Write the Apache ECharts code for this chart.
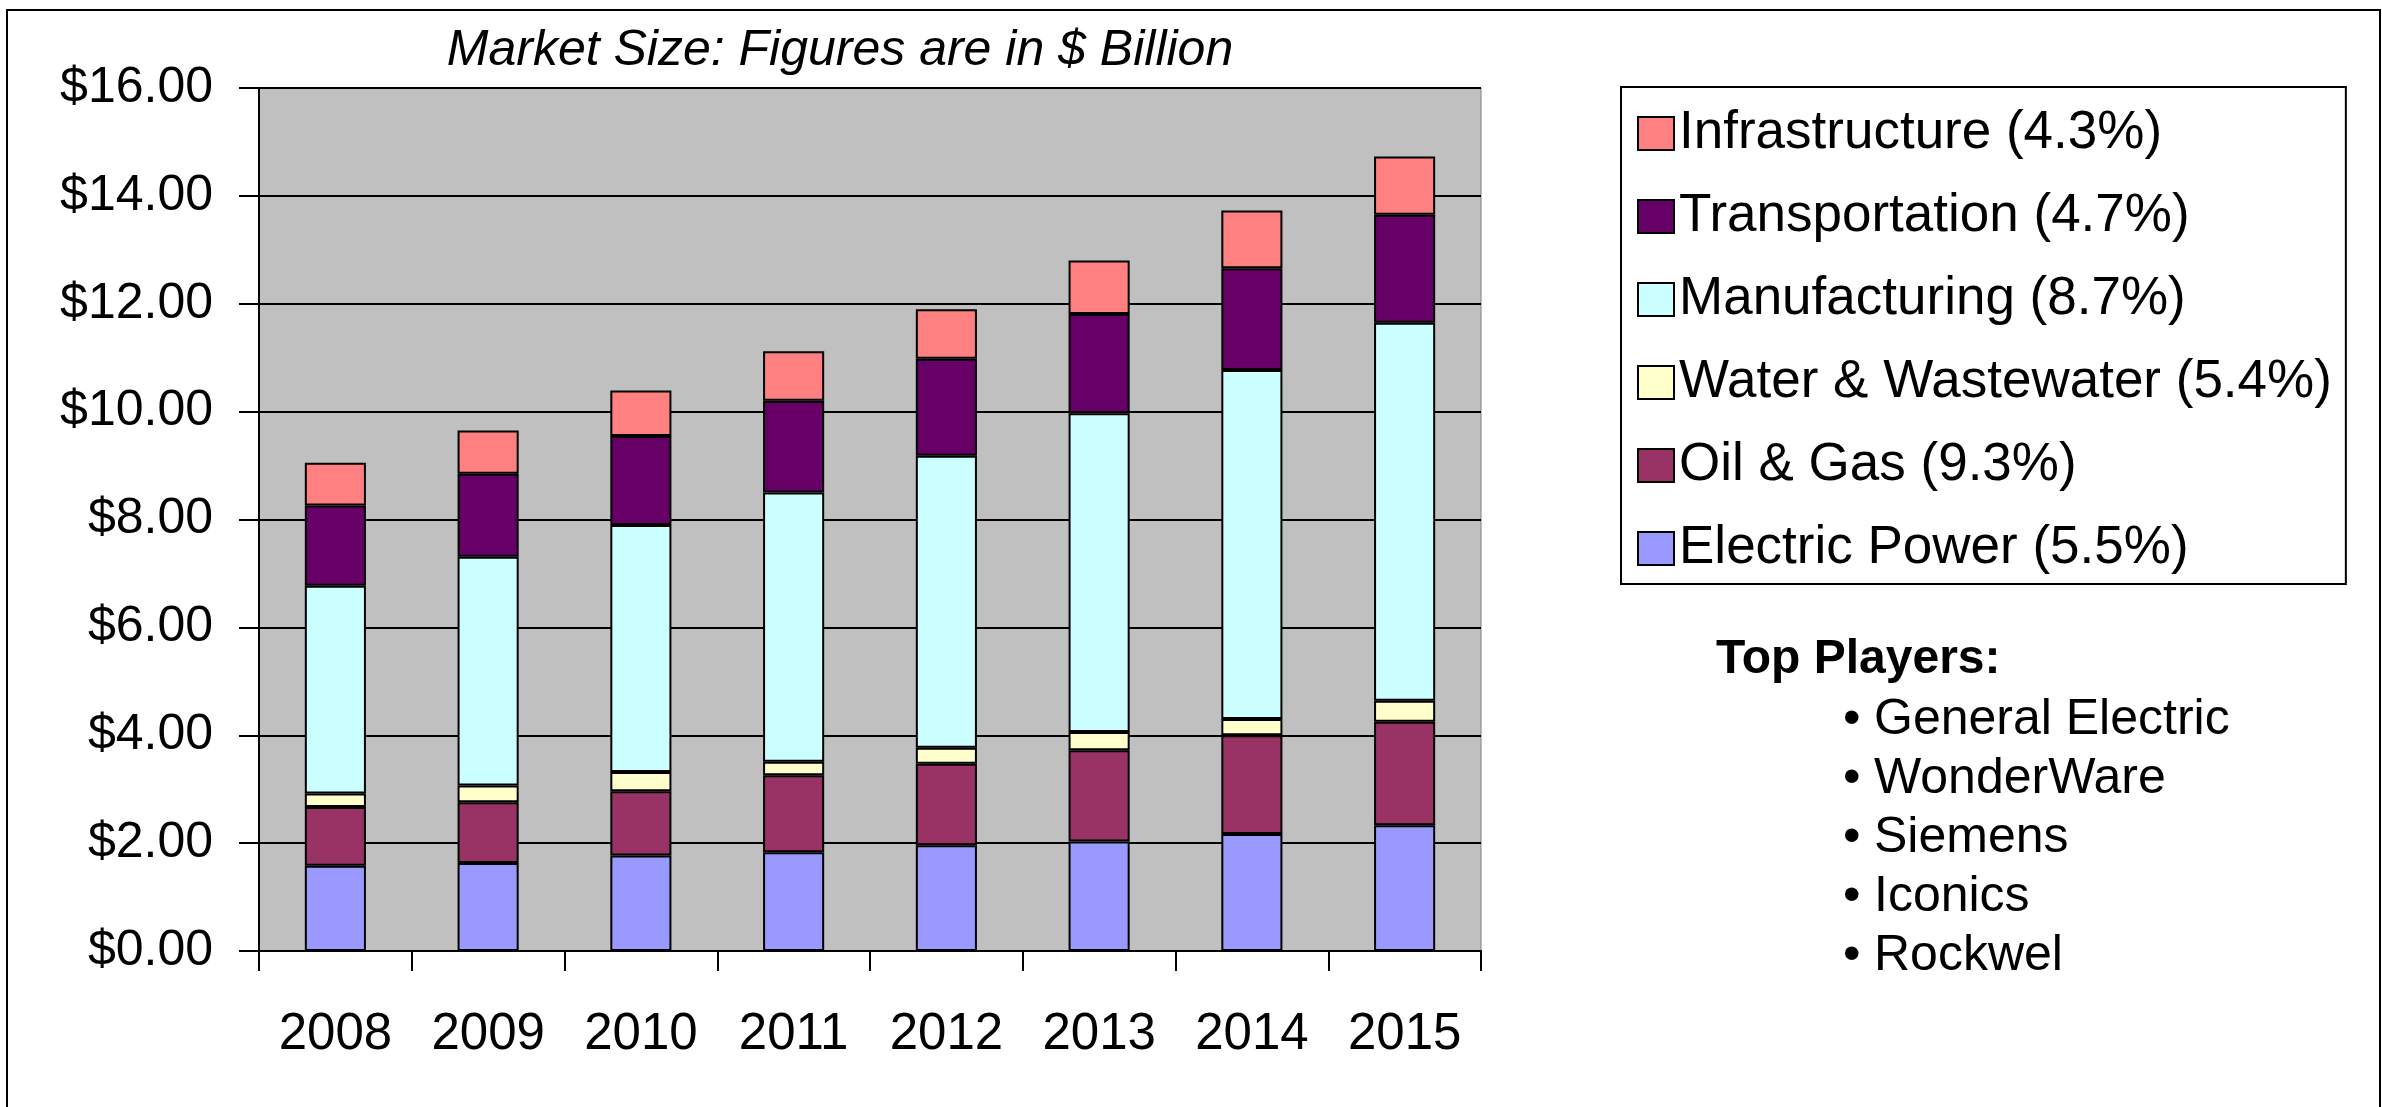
<!DOCTYPE html>
<html>
<head>
<meta charset="utf-8">
<script src="https://cdn.jsdelivr.net/npm/echarts@6/dist/echarts.min.js"></script>
<style>
html,body{margin:0;padding:0;background:#fff;}
#chart{width:2382px;height:1107px;}
</style>
</head>
<body>
<div id="chart"></div>
<script>
const years = ['2008','2009','2010','2011','2012','2013','2014','2015'];
const electricPower = [1.58, 1.63, 1.77, 1.83, 1.96, 2.03, 2.17, 2.33];
const oilGas        = [1.09, 1.13, 1.19, 1.43, 1.51, 1.69, 1.83, 1.92];
const water         = [0.25, 0.31, 0.36, 0.25, 0.30, 0.34, 0.30, 0.39];
const manufacturing = [3.85, 4.24, 4.58, 4.99, 5.41, 5.91, 6.47, 7.01];
const transportation= [1.49, 1.54, 1.65, 1.70, 1.80, 1.84, 1.89, 2.00];
const infrastructure= [0.79, 0.80, 0.84, 0.92, 0.92, 0.99, 1.07, 1.08];
const seriesNames = ['Electric Power (5.5%)','Oil & Gas (9.3%)','Water & Wastewater (5.4%)','Manufacturing (8.7%)','Transportation (4.7%)','Infrastructure (4.3%)'];
const yTicks = [0, 2, 4, 6, 8, 10, 12, 14, 16];
const topPlayers = ['General Electric','WonderWare','Siemens','Iconics','Rockwel'];
const titleText = 'Market Size: Figures are in $ Billion';

const colors = ['#9999FF','#993366','#FFFFCC','#CCFFFF','#660066','#FF8080'];
const seriesData = [electricPower, oilGas, water, manufacturing, transportation, infrastructure];
const FONT = '"Liberation Sans", Arial, sans-serif';

const chart = echarts.init(document.getElementById('chart'), null, {renderer:'canvas'});

const graphics = [
  {type:'rect', shape:{x:7, y:10, width:2373, height:1200}, style:{fill:'none', stroke:'#000', lineWidth:2}, silent:true},
  {type:'text', x:840, y:51, style:{text:titleText, font:'italic 50px ' + FONT, fill:'#000', textAlign:'center', textVerticalAlign:'middle'}},
  {type:'text', x:1716, y:660, style:{text:'Top Players:', font:'bold 48px ' + FONT, fill:'#000', textAlign:'left', textVerticalAlign:'middle'}}
];
topPlayers.forEach((p, i) => {
  const y = 720 + i * 59;
  graphics.push({type:'text', x:1843, y:y, style:{text:'\u2022', font:'50px ' + FONT, fill:'#000', textAlign:'left', textVerticalAlign:'middle'}});
  graphics.push({type:'text', x:1874, y:y, style:{text:p, font:'50px ' + FONT, fill:'#000', textAlign:'left', textVerticalAlign:'middle'}});
});

const option = {
  backgroundColor:'#fff',
  animation:false,
  textStyle:{fontFamily:FONT},
  grid:{left:259, top:88, right:901, bottom:156, show:true, backgroundColor:'#C0C0C0', borderColor:'#808080', borderWidth:1},
  legend:{
    orient:'vertical', left:1621, top:87,
    data: seriesNames.slice().reverse(),
    backgroundColor:'#fff', borderColor:'#000', borderWidth:2,
    padding:[20, 14, 9, 16],
    itemWidth:36, itemHeight:33, itemGap:30, itemTextGap:21,
    icon:'rect',
    textStyle:{fontSize:53, color:'#000', fontFamily:FONT},
    selectedMode:false
  },
  xAxis:{
    type:'category', data:years, boundaryGap:true,
    axisLine:{lineStyle:{color:'#000', width:2}},
    axisTick:{show:true, alignWithLabel:false, length:20, lineStyle:{color:'#000', width:2}},
    axisLabel:{fontSize:51, color:'#000', margin:58, fontFamily:FONT}
  },
  yAxis:{
    type:'value', min:0, max:16, interval:2,
    axisLine:{show:true, lineStyle:{color:'#000', width:2}},
    axisTick:{show:true, length:20, lineStyle:{color:'#000', width:2}},
    axisLabel:{fontSize:50, color:'#000', margin:46, fontFamily:FONT, formatter:v => '$' + v.toFixed(2)},
    splitLine:{show:true, lineStyle:{color:'#000', width:2}}
  },
  series: seriesData.map((d, i) => ({
    name: seriesNames[i], type:'bar', stack:'total', data:d, barWidth:'40%',
    itemStyle:{color:colors[i], borderColor:'#000', borderWidth:2}
  })),
  graphic: graphics
};
chart.setOption(option);
</script>
</body>
</html>
